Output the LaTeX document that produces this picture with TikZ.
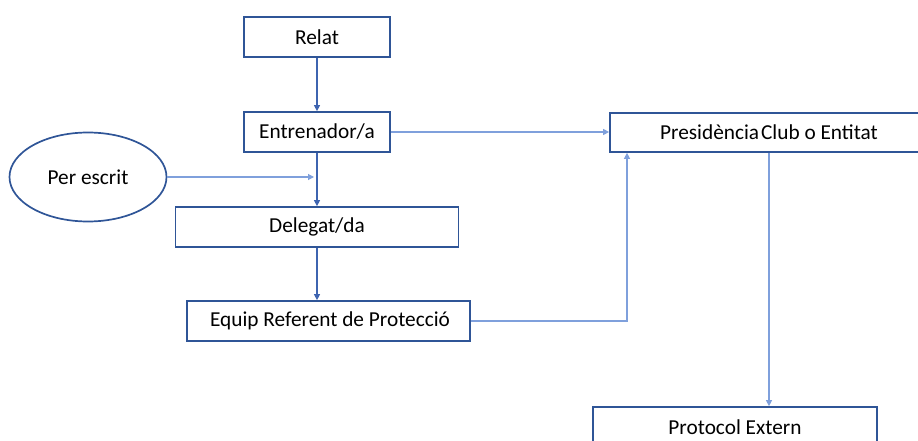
\documentclass[tikz,border=0pt]{standalone}
\usepackage{fontspec}
\setmainfont{Carlito}
\usetikzlibrary{arrows.meta}
\definecolor{boxblue}{HTML}{2F5597}
\definecolor{darkline}{HTML}{3E64B0}
\definecolor{lightline}{HTML}{7FA0DC}
\tikzset{
  boxnode/.style={draw=boxblue, line width=1.7pt, rectangle, inner sep=0pt, font=\fontsize{21.3}{25}\selectfont},
  ovalnode/.style={draw=boxblue, line width=1.7pt, ellipse, inner sep=0pt, font=\fontsize{21.3}{25}\selectfont},
  darkarrow/.style={draw=darkline, line width=1.1pt, -{Triangle[length=6pt,width=6pt]}},
  lightarrow/.style={draw=lightline, line width=1.1pt, -{Triangle[length=6pt,width=6pt]}},
}
\usetikzlibrary{shapes.geometric}
\begin{document}
\begin{tikzpicture}[x=1pt,y=-1pt]
\useasboundingbox (0,0) rectangle (918,441);
\begin{scope}
\clip (0,0) rectangle (918,441);
\node[boxnode, minimum width=146pt, minimum height=40pt] (relat) at (317,37) {Relat};
\node[boxnode, minimum width=146pt, minimum height=40pt] (entr) at (317,132) {Entrenador/a};
\node[ovalnode, minimum width=157pt, minimum height=89pt] (per) at (88,177) {Per escrit};
\node[boxnode, minimum width=283pt, minimum height=40pt] (deleg) at (317,227) {Delegat/da};
\node[boxnode, minimum width=283pt, minimum height=40pt] (equip) at (328.5,321) {\hspace{3pt}Equip Referent de Protecció};
\node[boxnode, minimum width=318pt, minimum height=39pt] (pres) at (769,132.5) {Presidència\hspace{2pt}Club o Entitat};
\node[boxnode, minimum width=284pt, minimum height=40pt] (prot) at (735,427) {Protocol Extern};
\coordinate (perend) at (314,177);
\draw[darkarrow] (relat.south) -- (entr.north);
\draw[darkarrow] (entr.south) -- (deleg.north);
\draw[darkarrow] (deleg.south) -- (deleg.south |- equip.north);
\draw[lightarrow] (per.east) -- (perend);
\draw[lightarrow] (entr.east) -- (pres.west |- entr.east);
\draw[lightarrow] (equip.east) -| ([xshift=-142pt]pres.south);
\draw[lightarrow] (pres.south) -- (pres.south |- prot.north);
\end{scope}
\end{tikzpicture}
\end{document}
